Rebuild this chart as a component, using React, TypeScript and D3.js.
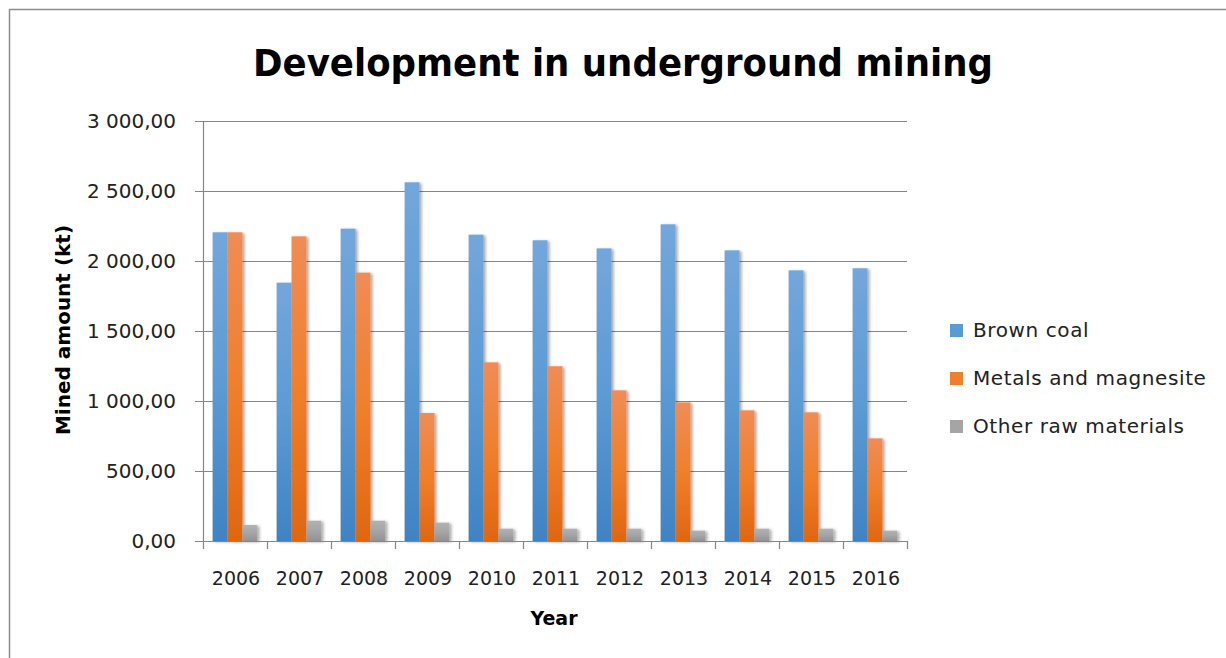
import { useEffect, useRef } from 'react';
import * as d3 from 'd3';

const years = ['2006', '2007', '2008', '2009', '2010', '2011', '2012', '2013', '2014', '2015', '2016'];
const seriesNames = ['Brown coal', 'Metals and magnesite', 'Other raw materials'];
const brownCoal = [2205, 1845, 2231, 2562, 2188, 2148, 2090, 2262, 2076, 1933, 1948];
const metals = [2205, 2176, 1917, 914, 1276, 1248, 1076, 990, 933, 919, 733];
const otherRaw = [114, 145, 145, 131, 88, 88, 88, 74, 88, 88, 74];
const yTicks = [0, 500, 1000, 1500, 2000, 2500, 3000];

const seriesValues = [brownCoal, metals, otherRaw];
const gradients = [
  ['#72a7dc', '#5b9bd5', '#3f83c3'],
  ['#f08c55', '#f07f2c', '#e0660f'],
  ['#b2b2b2', '#a5a5a5', '#929292'],
];

const W = 1226;
const H = 658;
const FONT = '"DejaVu Sans", sans-serif';

const fmt = (v: number) => {
  const s = d3.format(',.2f')(v);
  return s.replace(/,/g, ' ').replace('.', ',');
};

export default function App() {
  const svgRef = useRef<SVGSVGElement>(null);

  useEffect(() => {
    if (!svgRef.current) return;
    const svg = d3.select(svgRef.current);
    svg.selectAll('*').remove();

    const plot = { left: 203, right: 907, top: 121, bottom: 541 };

    const defs = svg.append('defs');
    gradients.forEach((g, i) => {
      const lg = defs.append('linearGradient')
        .attr('id', `grad${i}`)
        .attr('x1', 0).attr('y1', 0).attr('x2', 0).attr('y2', 1);
      lg.append('stop').attr('offset', '0%').attr('stop-color', g[0]);
      lg.append('stop').attr('offset', '50%').attr('stop-color', g[1]);
      lg.append('stop').attr('offset', '100%').attr('stop-color', g[2]);
    });
    const filter = defs.append('filter').attr('id', 'shadow')
      .attr('x', '-30%').attr('y', '-10%').attr('width', '170%').attr('height', '130%');
    filter.append('feDropShadow')
      .attr('dx', 2).attr('dy', 1).attr('stdDeviation', 1.6)
      .attr('flood-color', '#000').attr('flood-opacity', 0.35);

    svg.append('rect').attr('width', W).attr('height', H).attr('fill', '#fff');

    // outer chart border (only top & left visible)
    svg.append('path')
      .attr('d', `M9.5,${H} V9.5 H${W}`)
      .attr('fill', 'none')
      .attr('stroke', '#8c8c8c')
      .attr('stroke-width', 1.5);

    const x0 = d3.scaleBand<string>()
      .domain(years)
      .range([plot.left, plot.right])
      .paddingInner(0.3)
      .paddingOuter(0.15);
    const x1 = d3.scaleBand<number>()
      .domain([0, 1, 2])
      .range([0, x0.bandwidth()]);
    const y = d3.scaleLinear().domain([0, 3000]).range([plot.bottom, plot.top]);

    // gridlines
    svg.append('g')
      .selectAll('line')
      .data(yTicks)
      .join('line')
      .attr('x1', plot.left - 8)
      .attr('x2', plot.right)
      .attr('y1', d => Math.round(y(d)) + 0.5)
      .attr('y2', d => Math.round(y(d)) + 0.5)
      .attr('stroke', '#868686')
      .attr('stroke-width', 1.2);

    // y axis line
    svg.append('line')
      .attr('x1', plot.left + 0.5).attr('x2', plot.left + 0.5)
      .attr('y1', plot.top).attr('y2', plot.bottom)
      .attr('stroke', '#868686').attr('stroke-width', 1.2);

    // x ticks
    const xTickPos = years.map(yr => x0(yr)! - x0.step() * 0.15).concat([plot.right]);
    svg.append('g')
      .selectAll('line')
      .data(xTickPos)
      .join('line')
      .attr('x1', d => Math.round(d) + 0.5)
      .attr('x2', d => Math.round(d) + 0.5)
      .attr('y1', plot.bottom)
      .attr('y2', plot.bottom + 8)
      .attr('stroke', '#868686')
      .attr('stroke-width', 1.2);

    // bars
    seriesValues.forEach((vals, si) => {
      svg.append('g')
        .attr('filter', 'url(#shadow)')
        .selectAll('rect')
        .data(vals)
        .join('rect')
        .attr('x', (_, i) => x0(years[i])! + x1(si)!)
        .attr('width', x1.bandwidth())
        .attr('y', d => y(d))
        .attr('height', d => y(0) - y(d))
        .attr('fill', `url(#grad${si})`);
    });

    // base axis line on top
    svg.append('line')
      .attr('x1', plot.left).attr('x2', plot.right)
      .attr('y1', plot.bottom + 0.5).attr('y2', plot.bottom + 0.5)
      .attr('stroke', '#868686').attr('stroke-width', 1.2);

    // y tick labels
    svg.append('g')
      .selectAll('text')
      .data(yTicks)
      .join('text')
      .attr('x', 176)
      .attr('y', d => y(d))
      .attr('dy', '0.36em')
      .attr('text-anchor', 'end')
      .attr('font-family', FONT)
      .attr('font-size', 20)
      .attr('fill', '#222')
      .text(d => fmt(d));

    // x tick labels
    svg.append('g')
      .selectAll('text')
      .data(years)
      .join('text')
      .attr('x', d => x0(d)! + x0.bandwidth() / 2 + 1)
      .attr('y', 585)
      .attr('text-anchor', 'middle')
      .attr('font-family', FONT)
      .attr('font-size', 19)
      .attr('fill', '#222')
      .text(d => d);

    // title
    svg.append('text')
      .attr('x', 623)
      .attr('y', 76)
      .attr('text-anchor', 'middle')
      .attr('font-family', FONT)
      .attr('font-weight', 'bold')
      .attr('font-size', 37)
      .attr('textLength', 740)
      .attr('lengthAdjust', 'spacingAndGlyphs')
      .attr('fill', '#000')
      .text('Development in underground mining');

    // axis titles
    svg.append('text')
      .attr('transform', `translate(70,330) rotate(-90)`)
      .attr('text-anchor', 'middle')
      .attr('font-family', FONT)
      .attr('font-weight', 'bold')
      .attr('font-size', 20)
      .attr('fill', '#000')
      .text('Mined amount (kt)');

    svg.append('text')
      .attr('x', 554)
      .attr('y', 625)
      .attr('text-anchor', 'middle')
      .attr('font-family', FONT)
      .attr('font-weight', 'bold')
      .attr('font-size', 19)
      .attr('fill', '#000')
      .text('Year');

    // legend
    const legendY = d3.scalePoint<string>().domain(seriesNames).range([330, 426]);
    const lg = svg.append('g')
      .selectAll('g')
      .data(seriesNames)
      .join('g')
      .attr('transform', d => `translate(950,${legendY(d)})`);
    lg.append('rect')
      .attr('x', 0).attr('y', -6)
      .attr('width', 13).attr('height', 13)
      .attr('fill', (_, i) => gradients[i][1]);
    lg.append('text')
      .attr('x', 23)
      .attr('y', 0)
      .attr('dy', '0.36em')
      .attr('font-family', FONT)
      .attr('font-size', 20)
      .attr('letter-spacing', 0.6)
      .attr('fill', '#222')
      .text(d => d);
  }, []);

  return (
    <div style={{ position: 'absolute', left: 0, top: 0, width: W, height: H, background: '#fff' }}>
      <svg ref={svgRef} width={W} height={H} style={{ display: 'block' }} />
    </div>
  );
}
